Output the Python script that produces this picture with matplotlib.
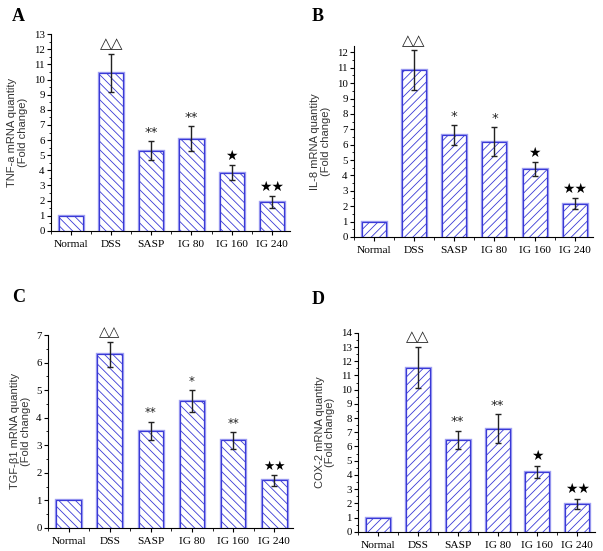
import matplotlib
matplotlib.use('Agg')
import matplotlib.pyplot as plt
from matplotlib.ticker import MultipleLocator, FixedLocator

groups = ['Normal', 'DSS', 'SASP', 'IG 80', 'IG 160', 'IG 240']

# panel A : TNF-a
tnf_vals = [1.0, 10.45, 5.3, 6.1, 3.85, 1.9]
tnf_err = [0.0, 1.25, 0.62, 0.8, 0.5, 0.38]
tnf_marks = ['', '△△', '**', '**', '★', '★★']

# panel B : IL-8
il8_vals = [1.0, 10.85, 6.6, 6.2, 4.4, 2.15]
il8_err = [0.0, 1.3, 0.65, 0.95, 0.45, 0.35]
il8_marks = ['', '△△', '*', '*', '★', '★★']

# panel C : TGF-b1
tgf_vals = [1.0, 6.3, 3.52, 4.6, 3.18, 1.72]
tgf_err = [0.0, 0.45, 0.33, 0.4, 0.3, 0.2]
tgf_marks = ['', '△△', '**', '*', '**', '★★']

# panel D : COX-2
cox_vals = [1.0, 11.55, 6.45, 7.25, 4.2, 1.95]
cox_err = [0.0, 1.45, 0.65, 1.0, 0.45, 0.38]
cox_marks = ['', '△△', '**', '**', '★', '★★']

plt.rcParams['hatch.linewidth'] = 0.6

fig = plt.figure(figsize=(6.03, 5.51), dpi=100)


def draw_panel(rect, vals, err, marks, ylab, ymax, hatch, letter, letter_pos, mark_size):
    ax = fig.add_axes(rect)
    x = list(range(len(groups)))
    # light outer border then hatched bar
    ax.bar(x, vals, width=0.6, color='white', edgecolor='#a0a0f2', linewidth=2.4, zorder=2)
    ax.bar(x, vals, width=0.6, color='white', edgecolor='#3a3ad6', linewidth=0.9,
           hatch=hatch, zorder=3)
    ax.errorbar(x[1:], vals[1:], yerr=err[1:], fmt='none', ecolor='#222222',
                elinewidth=1.0, capsize=2.2, capthick=1.0, zorder=4)
    for xi, v, e, m in zip(x, vals, err, marks):
        if not m:
            continue
        if m.startswith('★'):
            fs = mark_size + 1
        elif m.startswith('△'):
            fs = mark_size + 2
        else:
            fs = mark_size + 0.5
        ax.text(xi, v + e + ymax * 0.012, m, ha='center', va='bottom',
                fontsize=fs, color='#222222' if m[0] != '★' else 'black',
                family='DejaVu Sans')
    ax.set_xlim(-0.5, 5.45)
    ax.set_ylim(0, ymax)
    ax.spines['top'].set_visible(False)
    ax.spines['right'].set_visible(False)
    ax.spines['left'].set_linewidth(0.8)
    ax.spines['bottom'].set_linewidth(0.8)
    ax.set_xticks(x)
    ax.set_xticklabels(groups, family='Liberation Serif', fontsize=8.2)
    ax.xaxis.set_minor_locator(FixedLocator([i + 0.5 for i in range(-1, 6)]))
    ax.yaxis.set_major_locator(MultipleLocator(1))
    ax.yaxis.set_minor_locator(MultipleLocator(0.5))
    ax.tick_params(axis='both', which='major', length=3, width=0.8, direction='out')
    ax.tick_params(axis='both', which='minor', length=1.8, width=0.6, direction='out')
    ax.tick_params(axis='y', labelsize=7.8, pad=1.5)
    for lab in ax.get_yticklabels():
        lab.set_family('Liberation Serif')
    ax.set_ylabel(ylab, family='Liberation Sans', fontsize=8, color='#333333',
                  labelpad=4, linespacing=1.1)
    fig.text(letter_pos[0], letter_pos[1], letter, family='Liberation Serif',
             fontsize=13, fontweight='bold', ha='left', va='top')
    return ax


draw_panel([0.0846, 0.581, 0.396, 0.357], tnf_vals, tnf_err, tnf_marks,
           'TNF-a mRNA quantity\n(Fold change)', 13, '\\\\\\\\', 'A', (0.02, 0.985), 9)
draw_panel([0.587, 0.570, 0.396, 0.346], il8_vals, il8_err, il8_marks,
           'IL-8 mRNA quantity\n(Fold change)', 12.4, '////', 'B', (0.517, 0.985), 9)
draw_panel([0.0796, 0.042, 0.406, 0.350], tgf_vals, tgf_err, tgf_marks,
           'TGF-β1 mRNA quantity\n(Fold change)', 7, '\\\\\\\\', 'C', (0.02, 0.475), 8)
draw_panel([0.594, 0.035, 0.393, 0.361], cox_vals, cox_err, cox_marks,
           'COX-2 mRNA quantity\n(Fold change)', 14, '////', 'D', (0.517, 0.472), 9)

fig.savefig('out.png', dpi=100)
